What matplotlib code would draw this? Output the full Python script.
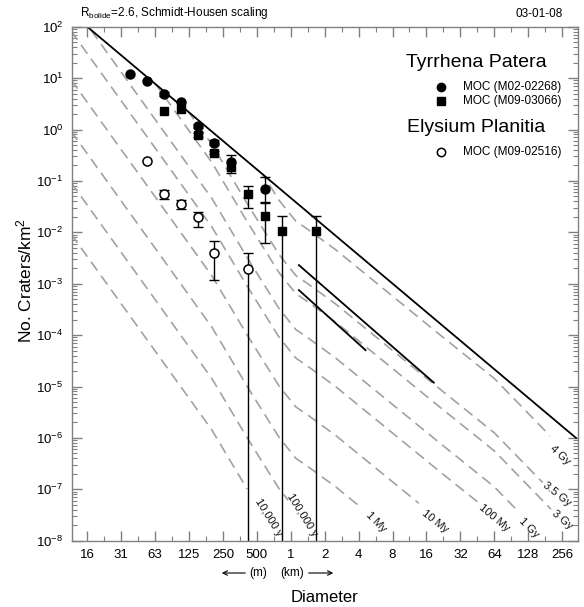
import numpy as np
import matplotlib
matplotlib.use('Agg')
from matplotlib import pyplot as plt
from matplotlib.patches import Polygon, FancyArrowPatch
from matplotlib.ticker import FixedLocator, NullFormatter, LogLocator

plt.rcParams['font.family'] = ['Liberation Sans', 'DejaVu Sans']
plt.rcParams['mathtext.fontset'] = 'custom'
plt.rcParams['mathtext.rm'] = 'Liberation Sans'
plt.rcParams['mathtext.it'] = 'Liberation Sans:italic'

# Tyrrhena Patera, MOC (M02-02268) -> filled circles  (D in km, N per km^2)
tp1_d = [0.0372, 0.0526, 0.0743, 0.105, 0.149, 0.210, 0.297, 0.595]
tp1_n = [12.0, 8.9, 4.9, 3.5, 1.17, 0.55, 0.237, 0.0695]
tp1_lo = [12.0, 8.9, 4.5, 3.5, 1.05, 0.50, 0.237, 0.039]
tp1_hi = [12.0, 8.9, 5.3, 3.5, 1.30, 0.62, 0.237, 0.121]

# Tyrrhena Patera, MOC (M09-03066) -> filled squares
tp2_d = [0.0743, 0.105, 0.149, 0.210, 0.297, 0.420, 0.595, 0.841, 1.68]
tp2_n = [2.3, 2.5, 0.78, 0.354, 0.189, 0.0556, 0.021, 0.0107, 0.0107]
tp2_lo = [2.3, 2.5, 0.72, 0.33, 0.144, 0.0297, 0.0063, 0.0, 0.0]
tp2_hi = [2.3, 2.5, 0.85, 0.39, 0.319, 0.079, 0.0377, 0.0207, 0.0207]

# Elysium Planitia, MOC (M09-02516) -> open circles
ep_d = [0.0526, 0.0743, 0.105, 0.149, 0.210, 0.420]
ep_n = [0.247, 0.0556, 0.035, 0.0196, 0.0039, 0.0019]
ep_lo = [0.247, 0.045, 0.028, 0.0129, 0.0012, 0.0]
ep_hi = [0.247, 0.066, 0.042, 0.025, 0.0068, 0.0039]

# saturation equilibrium (solid)
sat_d = [0.0156, 340.0]
sat_n = [1e2, 1e-6]

# the two short solid segments
seg1_d = [1.18, 18.6]
seg1_n = [2.3e-3, 1.19e-5]
seg2_d = [1.18, 4.61]
seg2_n = [7.5e-4, 5.1e-5]

# isochron shape (the 10,000 y curve), D in km
iso_d = [0.0112, 0.1137, 0.200, 0.413, 0.788, 1.11, 1.41, 2.5, 20.5, 64.0, 363.0]
iso_n = [9.3e-3, 7.9e-6, 1.41e-6, 9.8e-8, 1.02e-8, 4.0e-9, 2.8e-9, 1.12e-9,
         2.6e-11, 3.5e-12, 7.0e-14]

iso_names = ['10,000 y', '100,000 y', '1 My', '10 My', '100 My', '1 Gy', '3 Gy', '3.5 Gy', '4 Gy']
iso_mult = [1.0, 1e1, 1e2, 1e3, 8.9e3, 3.2e4, 1.6e5, 3.6e5, 4.1e6]
iso_end = [0.41, 0.95, 4.3, 13.7, 46.6, 104.0, 204.0, 172.0, 200.0]

# where the isochron names sit (D, N, angle)
iso_lab = [(0.64, 2.9e-8, -58), (1.26, 3.2e-8, -58), (5.7, 2.3e-8, -45),
           (18.9, 2.4e-8, -38), (64.0, 2.75e-8, -40), (129.0, 1.8e-8, -45),
           (258.0, 2.5e-8, -40), (232.0, 7.9e-8, -38), (247.0, 4.7e-7, -42)]

x_ticks = [2.0 ** k for k in range(-6, 9)]
x_labels = ['16', '31', '63', '125', '250', '500', '1', '2', '4', '8', '16', '32', '64', '128', '256']


def cut_line(d, n, d_end):
    # the dashed curve stops where its name starts
    ld = np.log10(d)
    ln = np.log10(n)
    keep = ld < np.log10(d_end)
    xs = list(ld[keep]) + [np.log10(d_end)]
    ys = list(ln[keep]) + [np.interp(np.log10(d_end), ld, ln)]
    return 10 ** np.array(xs), 10 ** np.array(ys)


def draw_series(ax, d, n, lo, hi, **mk):
    d, n, lo, hi = map(np.array, (d, n, lo, hi))
    has = hi > lo
    lo = np.maximum(lo, 1e-12)
    ax.errorbar(d[has], n[has], yerr=[n[has] - lo[has], hi[has] - n[has]], fmt='none',
                ecolor='black', elinewidth=1, capsize=3.4, capthick=1)
    ax.plot(d, n, ls='none', **mk)


fig = plt.figure(figsize=(5.84, 6.07), dpi=100)
ax = fig.add_axes([0.1228, 0.1092, 0.8664, 0.8468])
ax.set_xscale('log', base=2)
ax.set_yscale('log')
ax.set_xlim(2 ** -6.46, 2 ** 8.46)
ax.set_ylim(1e-8, 1e2)

# isochrons are only shown below the saturation line
below_sat = Polygon([(1e-3, 1e8), (sat_d[0], sat_n[0]), (sat_d[1], sat_n[1]), (1e4, 1e-9),
                     (1e4, 1e-20), (1e-3, 1e-20)], closed=True, transform=ax.transData)

for i in range(len(iso_names)):
    xs, ys = cut_line(np.array(iso_d), np.array(iso_n) * iso_mult[i], iso_end[i])
    ln, = ax.plot(xs, ys, color='#a2a2a2', lw=1.2, dashes=(6.5, 3.8))
    ln.set_clip_path(below_sat)
    d, n, a = iso_lab[i]
    ax.text(d, n, iso_names[i], rotation=a, fontsize=8, ha='center', va='center',
            rotation_mode='anchor', color='#111111')

ax.plot(sat_d, sat_n, color='black', lw=1.3)
ax.plot(seg1_d, seg1_n, color='black', lw=1.3)
ax.plot(seg2_d, seg2_n, color='black', lw=1.3)

draw_series(ax, tp2_d, tp2_n, tp2_lo, tp2_hi, marker='s', ms=6.3, color='black')
draw_series(ax, tp1_d, tp1_n, tp1_lo, tp1_hi, marker='o', ms=6.5, color='black')
draw_series(ax, ep_d, ep_n, ep_lo, ep_hi, marker='o', ms=6.5, mfc='white', mec='black', mew=1.1)

# ticks
ax.xaxis.set_major_locator(FixedLocator(x_ticks))
ax.xaxis.set_minor_locator(FixedLocator([2.0 ** (k + 0.5) for k in range(-7, 9)]))
ax.set_xticklabels(x_labels)
ax.xaxis.set_minor_formatter(NullFormatter())
ax.yaxis.set_major_locator(LogLocator(base=10, numticks=20))
ax.yaxis.set_minor_locator(LogLocator(base=10, subs=np.arange(2, 10), numticks=20))
ax.yaxis.set_minor_formatter(NullFormatter())
ax.tick_params(which='both', direction='in', top=True, right=True, color='#808080', labelsize=9.5)
ax.tick_params(which='major', length=7, width=1, pad=6)
ax.tick_params(which='minor', length=3.5, width=0.8)
for s in ax.spines.values():
    s.set_color('#808080')
    s.set_linewidth(1.0)

fig.text(325 / 584, 1 - 597 / 607, 'Diameter', fontsize=12, ha='center', va='center')
fig.text(24 / 584, 1 - 280 / 607, 'No. Craters/km$^2$', fontsize=12.5, ha='center', va='center',
         rotation=90)

# legend written by hand
ax.text(0.799, 0.931, 'Tyrrhena Patera', transform=ax.transAxes, fontsize=14, ha='center', va='center')
ax.text(0.799, 0.803, 'Elysium Planitia', transform=ax.transAxes, fontsize=14, ha='center', va='center')
ax.plot([0.730], [0.883], 'o', ms=6, color='black', transform=ax.transAxes)
ax.plot([0.730], [0.855], 's', ms=6, color='black', transform=ax.transAxes)
ax.plot([0.730], [0.756], 'o', ms=6, mfc='white', mec='black', mew=1.1, transform=ax.transAxes)
ax.text(0.773, 0.883, 'MOC (M02-02268)', transform=ax.transAxes, fontsize=8.5, va='center')
ax.text(0.773, 0.855, 'MOC (M09-03066)', transform=ax.transAxes, fontsize=8.5, va='center')
ax.text(0.773, 0.756, 'MOC (M09-02516)', transform=ax.transAxes, fontsize=8.5, va='center')

# header
fig.text(80 / 584, 1 - 13 / 607, r'R$_{\rm bolide}$=2.6, Schmidt-Housen scaling', fontsize=8.5, va='center')
fig.text(563 / 584, 1 - 14 / 607, '03-01-08', fontsize=8.5, va='center', ha='right')

# (m) / (km) arrows under the axis
yy = 1 - 573 / 607
fig.text(258 / 584, yy, '(m)', fontsize=8.5, ha='center', va='center')
fig.text(292 / 584, yy, '(km)', fontsize=8.5, ha='center', va='center')
fig.add_artist(FancyArrowPatch((248 / 584, yy), (219 / 584, yy), transform=fig.transFigure,
                               arrowstyle='->', mutation_scale=8, lw=0.8))
fig.add_artist(FancyArrowPatch((306 / 584, yy), (336 / 584, yy), transform=fig.transFigure,
                               arrowstyle='->', mutation_scale=8, lw=0.8))

fig.savefig('out.png', dpi=100)
